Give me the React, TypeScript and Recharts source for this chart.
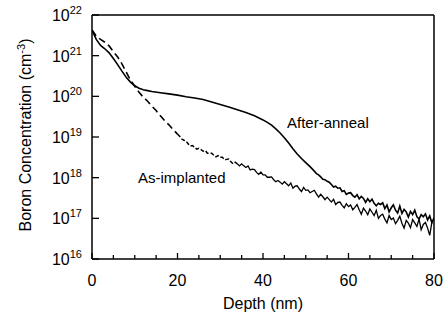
import { LineChart, Line, XAxis, YAxis, ReferenceLine } from 'recharts';

// depth in nm, concentration as log10(cm^-3)
const AS_DEPTH = [
  0, 1, 2, 3, 4, 5, 6, 7, 8, 9, 10, 11, 12, 13, 14, 15, 16, 17, 18, 19, 20,
  20.5, 21, 21.5, 22, 22.5, 23, 23.5, 24, 24.5, 25, 25.5, 26, 26.5, 27, 27.5, 28, 28.5, 29, 29.5, 30,
  30.5, 31, 31.5, 32, 32.5, 33, 33.5, 34, 34.5, 35, 35.5, 36, 36.5, 37, 37.5, 38, 38.5, 39, 39.5, 40,
  40.5, 41, 41.5, 42, 42.5, 43, 43.5, 44, 44.5, 45, 45.5, 46, 46.5, 47, 47.5, 48, 48.5, 49, 49.5, 50,
  50.5, 51, 51.5, 52, 52.5, 53, 53.5, 54, 54.5, 55, 55.5, 56, 56.5, 57, 57.5, 58, 58.5, 59, 59.5, 60,
  60.5, 61, 61.5, 62, 62.5, 63, 63.5, 64, 64.5, 65, 65.5, 66, 66.5, 67, 67.5, 68, 68.5, 69, 69.5, 70,
  70.5, 71, 71.5, 72, 72.5, 73, 73.5, 74, 74.5, 75, 75.5, 76, 76.5, 77, 77.5, 78, 78.5, 79, 79.5,
];
const AS_LOG = [
  21.63, 21.48, 21.4, 21.33, 21.24, 21.1, 20.97, 20.8, 20.6, 20.4, 20.25, 20.1, 19.98, 19.88, 19.76, 19.65, 19.52, 19.4, 19.3, 19.18, 19.07,
  19.02, 18.95, 18.92, 18.9, 18.83, 18.78, 18.79, 18.75, 18.7, 18.72, 18.69, 18.65, 18.67, 18.6, 18.6, 18.6, 18.55, 18.51, 18.54, 18.5,
  18.5, 18.44, 18.45, 18.46, 18.39, 18.34, 18.38, 18.34, 18.29, 18.34, 18.29, 18.25, 18.29, 18.19, 18.21, 18.2, 18.13, 18.08, 18.14, 18.07,
  18.07, 18.01, 18.01, 18.02, 17.95, 17.9, 17.93, 17.89, 17.84, 17.9, 17.85, 17.8, 17.87, 17.74, 17.79, 17.8, 17.72, 17.66, 17.76, 17.69,
  17.7, 17.63, 17.66, 17.69, 17.6, 17.52, 17.59, 17.53, 17.46, 17.52, 17.46, 17.4, 17.47, 17.34, 17.39, 17.4, 17.32, 17.26, 17.36, 17.29,
  17.33, 17.21, 17.27, 17.34, 17.21, 17.1, 17.25, 17.18, 17.09, 17.23, 17.15, 17.07, 17.2, 17.0, 17.07, 17.1, 16.98, 16.89, 17.07, 16.97,
  17.01, 16.87, 16.95, 17.05, 16.88, 16.76, 16.95, 16.88, 16.77, 16.97, 16.89, 16.8, 16.98, 16.72, 16.85, 16.9, 16.76, 16.58, 16.9,
];

const AA_DEPTH = [
  0, 1, 2, 3, 4, 5, 6, 7, 8, 9, 10, 11, 12, 13, 14, 16, 18, 20, 22, 24, 26, 28, 30, 32, 34, 36, 38, 40,
  41, 42, 43, 44, 45, 46, 47, 48, 49, 50, 51, 52,
  52.5, 53, 53.5, 54, 54.5, 55, 55.5, 56, 56.5, 57, 57.5, 58, 58.5, 59, 59.5, 60,
  60.5, 61, 61.5, 62, 62.5, 63, 63.5, 64, 64.5, 65, 65.5, 66, 66.5, 67, 67.5, 68, 68.5, 69, 69.5, 70,
  70.5, 71, 71.5, 72, 72.5, 73, 73.5, 74, 74.5, 75, 75.5, 76, 76.5, 77, 77.5, 78, 78.5, 79, 79.5, 80,
];
const AA_LOG = [
  21.63, 21.4, 21.25, 21.17, 21.07, 20.93, 20.78, 20.62, 20.47, 20.35, 20.26, 20.2, 20.16, 20.14, 20.12, 20.09, 20.06, 20.03, 19.99, 19.96, 19.92, 19.86, 19.8, 19.74, 19.67, 19.6, 19.52, 19.42,
  19.36, 19.29, 19.2, 19.1, 18.98, 18.85, 18.71, 18.58, 18.47, 18.37, 18.27, 18.16,
  18.1, 18.07, 18.02, 17.96, 17.95, 17.91, 17.89, 17.83, 17.77, 17.79, 17.74, 17.75, 17.66, 17.68, 17.59, 17.62,
  17.63, 17.56, 17.52, 17.58, 17.48, 17.54, 17.49, 17.39, 17.48, 17.41, 17.47, 17.37, 17.31, 17.37, 17.34, 17.38, 17.24, 17.33, 17.16, 17.26,
  17.33, 17.2, 17.13, 17.3, 17.12, 17.22, 17.16, 17.03, 17.17, 17.09, 17.2, 17.04, 16.98, 17.09, 17.04, 17.11, 16.96, 17.06, 16.89, 17.01,
];

const X_TICKS = [0, 5, 10, 15, 20, 25, 30, 35, 40, 45, 50, 55, 60, 65, 70, 75, 80];
const X_LABELED = [0, 20, 40, 60, 80];
const Y_TICKS = [1e16, 1e17, 1e18, 1e19, 1e20, 1e21, 1e22];

const toRows = (depth: number[], logs: number[]) =>
  depth.map((d, i) => ({ d, c: Math.pow(10, logs[i]) }));

const asRows = toRows(AS_DEPTH, AS_LOG);
const aaRows = toRows(AA_DEPTH, AA_LOG);
const asDashed = asRows.filter((r) => r.d <= 20);
const asShortDash = asRows.filter((r) => r.d >= 20 && r.d <= 34);
const asNoisy = asRows.filter((r) => r.d >= 34);

const FONT = '"Liberation Sans", Arial, sans-serif';

const XTick = ({ x, y, payload }: any) => {
  const v = payload.value;
  const labeled = X_LABELED.includes(v);
  return (
    <g>
      <line x1={x} x2={x} y1={y} y2={y - (labeled ? 6 : 4)} stroke="#000" strokeWidth={1.3} />
      {labeled && (
        <text x={x} y={y + 27} textAnchor="middle" fontSize={16} fill="#000" fontFamily={FONT}>
          {v}
        </text>
      )}
    </g>
  );
};

const YTick = ({ x, y, payload }: any) => {
  const exp = Math.round(Math.log10(payload.value));
  return (
    <g>
      <line x1={x} x2={x + 7} y1={y} y2={y} stroke="#000" strokeWidth={1.3} />
      <text x={x - 10} y={y + 6} textAnchor="end" fontSize={16} fill="#000" fontFamily={FONT}>
        10<tspan dy={-7} fontSize={11}>{exp}</tspan>
      </text>
    </g>
  );
};

const Texts = () => (
  <g fontFamily={FONT} fill="#000">
    <text x={263} y={309} textAnchor="middle" fontSize={16}>
      Depth (nm)
    </text>
    <text transform="translate(31,135) rotate(-90)" textAnchor="middle" fontSize={16}>
      Boron Concentration (cm<tspan dy={-6} fontSize={11}>-3</tspan>
      <tspan dy={6}>)</tspan>
    </text>
    <text x={287} y={128} fontSize={15}>After-anneal</text>
    <text x={138} y={183} fontSize={15}>As-implanted</text>
  </g>
);

export default function App() {
  return (
    <div style={{ position: 'absolute', left: 0, top: 0, background: '#fff' }}>
      <LineChart width={448} height={322} margin={{ top: 15, right: 14, bottom: 0, left: 0 }}>
        <XAxis
          type="number"
          dataKey="d"
          domain={[0, 80]}
          ticks={X_TICKS}
          interval={0}
          height={63}
          tickSize={0}
          tickMargin={0}
          tickLine={false}
          tick={<XTick />}
          axisLine={{ stroke: '#000', strokeWidth: 1.5 }}
          label={{ content: () => <Texts /> }}
          allowDataOverflow
        />
        <YAxis
          type="number"
          scale="log"
          domain={[1e16, 1e22]}
          ticks={Y_TICKS}
          interval={0}
          width={92}
          tickSize={0}
          tickMargin={0}
          tickLine={false}
          tick={<YTick />}
          axisLine={{ stroke: '#000', strokeWidth: 1.5 }}
          allowDataOverflow
        />
        <ReferenceLine y={1e22} stroke="#000" strokeWidth={1.5} />
        <ReferenceLine x={80} stroke="#000" strokeWidth={1.5} />
        <Line data={asDashed} dataKey="c" type="linear" stroke="#000" strokeWidth={1.6} strokeDasharray="7 4" dot={false} isAnimationActive={false} />
        <Line data={asShortDash} dataKey="c" type="linear" stroke="#000" strokeWidth={1.5} strokeDasharray="4 2" dot={false} isAnimationActive={false} />
        <Line data={asNoisy} dataKey="c" type="linear" stroke="#000" strokeWidth={1.3} dot={false} isAnimationActive={false} />
        <Line data={aaRows} dataKey="c" type="linear" stroke="#000" strokeWidth={1.6} dot={false} isAnimationActive={false} />
      </LineChart>
    </div>
  );
}
